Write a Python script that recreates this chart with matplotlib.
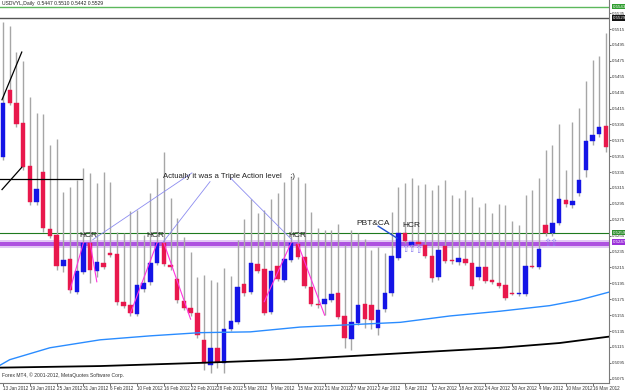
import matplotlib
matplotlib.use("Agg")
import matplotlib.pyplot as plt
import numpy as np

plt.rcParams['font.family'] = ['Liberation Sans', 'DejaVu Sans']

# daily bars, 13 Jan 2012 .. 18 May 2012
opens = [0.5354, 0.5438, 0.5422, 0.5397, 0.5343, 0.5297, 0.5335, 0.5263, 0.5256, 0.5217,
         0.5226, 0.5184, 0.5209, 0.5246, 0.5211, 0.5221, 0.5233, 0.5232, 0.5172, 0.5168,
         0.5157, 0.5188, 0.5197, 0.5221, 0.5246, 0.5218, 0.5201, 0.5173, 0.5164, 0.5158,
         0.5124, 0.5092, 0.5114, 0.5095, 0.5138, 0.5146, 0.5194, 0.5184, 0.5219, 0.5213,
         0.5159, 0.5217, 0.5199, 0.5224, 0.5245, 0.5228, 0.5190, 0.5169, 0.5169, 0.5174,
         0.5183, 0.5154, 0.5125, 0.5145, 0.5169, 0.5168, 0.5139, 0.5163, 0.5183, 0.5227,
         0.5258, 0.5243, 0.5247, 0.5243, 0.5229, 0.5203, 0.5242, 0.5224, 0.5222, 0.5226,
         0.5221, 0.5203, 0.5216, 0.5199, 0.5196, 0.5193, 0.5183, 0.5182, 0.5182, 0.5217,
         0.5216, 0.5268, 0.5258, 0.5271, 0.5300, 0.5294, 0.5309, 0.5338, 0.5374, 0.5383,
         0.5393]
highs = [0.5524, 0.5519, 0.5486, 0.5475, 0.5429, 0.5409, 0.5408, 0.5369, 0.5377, 0.5310,
         0.5316, 0.5325, 0.5340, 0.5334, 0.5321, 0.5335, 0.5323, 0.5260, 0.5258, 0.5286,
         0.5287, 0.5256, 0.5309, 0.5328, 0.5360, 0.5302, 0.5277, 0.5253, 0.5235, 0.5203,
         0.5206, 0.5199, 0.5197, 0.5214, 0.5204, 0.5250, 0.5276, 0.5301, 0.5284, 0.5287,
         0.5301, 0.5309, 0.5323, 0.5330, 0.5329, 0.5321, 0.5285, 0.5265, 0.5262, 0.5262,
         0.5270, 0.5243, 0.5262, 0.5258, 0.5251, 0.5237, 0.5241, 0.5233, 0.5285, 0.5316,
         0.5321, 0.5328, 0.5319, 0.5320, 0.5312, 0.5319, 0.5325, 0.5306, 0.5302, 0.5312,
         0.5304, 0.5291, 0.5296, 0.5284, 0.5295, 0.5294, 0.5274, 0.5268, 0.5306, 0.5312,
         0.5328, 0.5363, 0.5369, 0.5396, 0.5338, 0.5398, 0.5416, 0.5450, 0.5476, 0.5481,
         0.5510]
lows = [0.5350, 0.5419, 0.5392, 0.5338, 0.5294, 0.5294, 0.5260, 0.5252, 0.5212, 0.5209,
        0.5183, 0.5182, 0.5207, 0.5196, 0.5203, 0.5213, 0.5228, 0.5168, 0.5164, 0.5154,
        0.5154, 0.5184, 0.5193, 0.5218, 0.5217, 0.5212, 0.5170, 0.5162, 0.5154, 0.5126,
        0.5086, 0.5082, 0.5089, 0.5082, 0.5135, 0.5144, 0.5179, 0.5182, 0.5208, 0.5155,
        0.5157, 0.5198, 0.5197, 0.5222, 0.5226, 0.5189, 0.5167, 0.5164, 0.5155, 0.5172,
        0.5150, 0.5114, 0.5111, 0.5143, 0.5139, 0.5138, 0.5130, 0.5159, 0.5179, 0.5224,
        0.5246, 0.5241, 0.5242, 0.5227, 0.5197, 0.5199, 0.5221, 0.5219, 0.5218, 0.5218,
        0.5188, 0.5199, 0.5196, 0.5194, 0.5189, 0.5174, 0.5180, 0.5179, 0.5179, 0.5214,
        0.5213, 0.5255, 0.5255, 0.5268, 0.5291, 0.5290, 0.5305, 0.5329, 0.5369, 0.5379,
        0.5360]
closes = [0.5422, 0.5422, 0.5396, 0.5341, 0.5297, 0.5314, 0.5265, 0.5255, 0.5217, 0.5224,
          0.5187, 0.5211, 0.5246, 0.5212, 0.5222, 0.5216, 0.5231, 0.5172, 0.5167, 0.5158,
          0.5193, 0.5196, 0.5221, 0.5246, 0.5219, 0.5216, 0.5174, 0.5164, 0.5158, 0.5130,
          0.5095, 0.5114, 0.5096, 0.5138, 0.5148, 0.5190, 0.5183, 0.5221, 0.5211, 0.5158,
          0.5211, 0.5201, 0.5226, 0.5246, 0.5228, 0.5192, 0.5169, 0.5168, 0.5175, 0.5182,
          0.5153, 0.5126, 0.5146, 0.5168, 0.5150, 0.5149, 0.5162, 0.5183, 0.5229, 0.5258,
          0.5248, 0.5247, 0.5245, 0.5229, 0.5202, 0.5237, 0.5223, 0.5223, 0.5227, 0.5221,
          0.5192, 0.5216, 0.5198, 0.5197, 0.5192, 0.5177, 0.5182, 0.5183, 0.5217, 0.5216,
          0.5238, 0.5258, 0.5271, 0.5301, 0.5295, 0.5299, 0.5325, 0.5374, 0.5382, 0.5392,
          0.5367]

date_labels = ["13 Jan 2012", "19 Jan 2012", "25 Jan 2012", "31 Jan 2012", "6 Feb 2012",
               "10 Feb 2012", "16 Feb 2012", "22 Feb 2012", "28 Feb 2012", "5 Mar 2012",
               "9 Mar 2012", "15 Mar 2012", "21 Mar 2012", "27 Mar 2012", "2 Apr 2012",
               "6 Apr 2012", "12 Apr 2012", "18 Apr 2012", "24 Apr 2012", "30 Apr 2012",
               "4 May 2012", "10 May 2012", "16 May 2012"]

# moving averages (sampled along the bars)
ma_blue_x = [-0.45, 1, 7, 14.5, 22, 29.4, 36.9, 44.3, 51.8, 59.3, 66.7, 74.2, 81.6, 86, 90.45]
ma_blue_y = [0.5092, 0.5099, 0.5114, 0.5124, 0.5129, 0.5133, 0.5134, 0.5140, 0.5143, 0.5146,
             0.5154, 0.5160, 0.5167, 0.5174, 0.5184]
ma_black_x = [-0.45, 14.5, 29.4, 42.4, 59.3, 74.2, 83.1, 90.45]
ma_black_y = [0.5089, 0.5091, 0.5095, 0.5099, 0.5107, 0.5114, 0.5120, 0.5128]

# drawn objects
pink_lines = [((10, 0.5187), (12, 0.5246)), ((13, 0.5246), (14, 0.5197)),
              ((19, 0.5157), (23, 0.5246)), ((24, 0.5246), (28, 0.5150)),
              ((39, 0.5172), (43, 0.5246)), ((44, 0.5245), (48, 0.5155))]
triple_lines = [((28.2, 0.5334), (13.4, 0.5250)), ((30.9, 0.5323), (23.9, 0.5247)),
                ((33.9, 0.5328), (43.1, 0.5250))]
black_lines = [((-0.15, 0.5426), (2.8, 0.5486)), ((-0.15, 0.5313), (2.8, 0.5341)),
               ((-0.45, 0.5326), (11.8, 0.5326))]
hcr_pos = [(12.8, 0.5251), (22.8, 0.5251), (43.9, 0.5251), (61.0, 0.5263)]
arrow_pos = [(60, 0.5238), (61, 0.5238), (62, 0.5237), (81.2, 0.5246), (82.1, 0.5246)]

green_top = 0.5543
black_top = 0.5529
green_level = 0.5259
purple_level = 0.5247

bull = "#1414e6"
bear = "#e8184c"
wick = "#a6a6a6"

fig = plt.figure(figsize=(6.25, 3.9), dpi=100)
ax = fig.add_axes([0.0, 0.018, 0.9744, 0.982])
ax.set_xlim(-0.45, 90.45)
ax.set_ylim(0.50697, 0.55515)

x = np.arange(len(opens))
o = np.array(opens)
c = np.array(closes)
ax.vlines(x, lows, highs, color=wick, lw=1, zorder=2)
cols = [bull if cc >= oo else bear for oo, cc in zip(o, c)]
bottoms = np.minimum(o, c)
heights = np.maximum(np.abs(c - o), 0.00004)
ax.bar(x, heights, bottom=bottoms, width=0.66, color=cols, edgecolor=cols, lw=0.3, zorder=3)

ax.plot(ma_blue_x, ma_blue_y, color="#2a8cff", lw=1, zorder=4)
ax.plot(ma_black_x, ma_black_y, color="black", lw=1.3, zorder=4)

# levels
ax.axhspan(0.5240, 0.5249, color="#e2c9f5", zorder=1, lw=0)
ax.axhline(0.5246, color="#a43bdc", lw=1.2, zorder=1.5)
ax.axhline(0.5243, color="#a43bdc", lw=1.2, zorder=1.5)
ax.axhline(green_level, color="#1e7a1e", lw=0.8, zorder=1.5)
ax.axhline(green_top, color="#5cb85c", lw=1, zorder=1.5)
ax.axhline(black_top, color="#555555", lw=1, zorder=1.5)

for (x0, y0), (x1, y1) in pink_lines:
    ax.plot([x0, x1], [y0, y1], color="#ff33dd", lw=0.8, zorder=5)
for (x0, y0), (x1, y1) in triple_lines:
    ax.plot([x0, x1], [y0, y1], color="#8c8cf0", lw=0.6, zorder=5)
for (x0, y0), (x1, y1) in black_lines:
    ax.plot([x0, x1], [y0, y1], color="black", lw=0.9, zorder=5)
ax.plot([56, 58.8], [0.5267, 0.5252], color="#1f4fd0", lw=1, zorder=5)

for hx, hy in hcr_pos:
    ax.text(hx, hy, "HCR", fontsize=6, ha="center", va="bottom", color="#222222", zorder=6)
ax.text(23.9, 0.5329, "Actually it was a Triple Action level    :)", fontsize=5.6,
        ha="left", va="center", color="#222222", zorder=6)
ax.text(52.7, 0.5270, "PBT&CA", fontsize=6, ha="left", va="center", color="#222222", zorder=6)
for px, py in arrow_pos:
    ax.text(px, py, "\u21e7", fontsize=7, ha="center", va="center", color="#8f80f0",
            family="DejaVu Sans", zorder=6)

ax.text(0.004, 0.997, "USDVYL,Daily  0.5447 0.5510 0.5442 0.5529", transform=ax.transAxes,
        fontsize=3.6, ha="left", va="top", color="#222222")
ax.text(0.004, 0.012, "Forex MT4, \u00a9 2001-2012, MetaQuotes Software Corp.",
        transform=ax.transAxes, fontsize=3.6, ha="left", va="bottom", color="#333333")

# axes
for s in ["top", "left"]:
    ax.spines[s].set_visible(False)
for s in ["right", "bottom"]:
    ax.spines[s].set_color("#7a7a7a")
    ax.spines[s].set_linewidth(0.8)
ax.yaxis.tick_right()
yt = np.round(np.arange(0.5075, 0.5536, 0.002), 4)
ax.set_yticks(yt)
ax.set_yticklabels(["%.4f" % v for v in yt])
ax.tick_params(axis="y", labelsize=3.2, length=1.5, width=0.5, pad=0.8, colors="#333333")
ax.set_xticks(x[::4])
ax.set_xticklabels(date_labels, ha="left")
ax.tick_params(axis="x", labelsize=3.3, length=2, width=0.5, pad=0.3, colors="#333333")

tr = ax.get_yaxis_transform()
boxes = [(green_top, "#2f9e2f"), (black_top, "#111111"), (green_level, "#2f8f2f"),
         (purple_level, "#9b30d9")]
for val, col in boxes:
    ax.text(1.006, val, "%.4f" % val, transform=tr, fontsize=3.2, color="white",
            ha="left", va="center", clip_on=False, zorder=10,
            bbox=dict(boxstyle="square,pad=0.15", fc=col, ec="none"))

fig.savefig("out.png", dpi=100)
